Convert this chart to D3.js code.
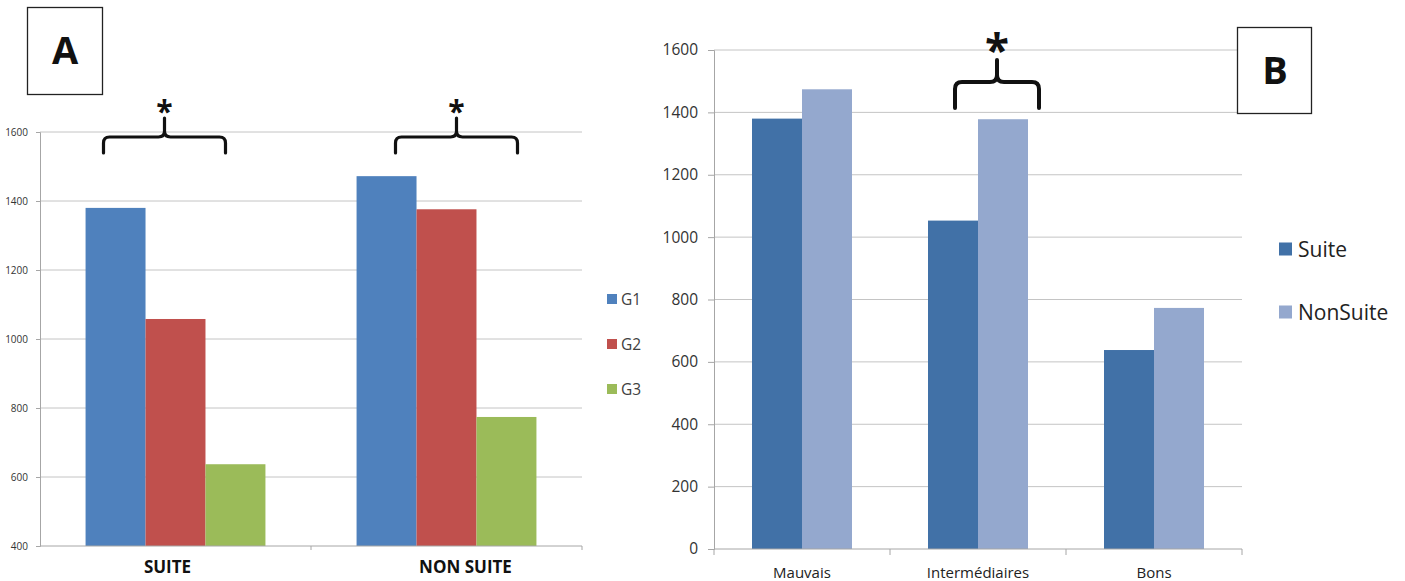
<!DOCTYPE html>
<html>
<head>
<meta charset="utf-8">
<script src="https://cdn.jsdelivr.net/npm/d3@7"></script>
<style>
  html, body { margin: 0; padding: 0; background: #fff; }
  svg { display: block; font-family: "Open Sans", sans-serif; }
</style>
</head>
<body>
<svg id="chart" width="1405" height="581"></svg>
<script>
// ---------- Data ----------
const categoriesA = ["SUITE", "NON SUITE"];
const seriesA = ["G1", "G2", "G3"];
const valuesA_G1 = [1380, 1472];
const valuesA_G2 = [1058, 1376];
const valuesA_G3 = [637, 774];
const ticksA = [400, 600, 800, 1000, 1200, 1400, 1600];

const categoriesB = ["Mauvais", "Intermédiaires", "Bons"];
const seriesB = ["Suite", "NonSuite"];
const valuesB_Suite = [1380, 1053, 638];
const valuesB_NonSuite = [1474, 1378, 773];
const ticksB = [0, 200, 400, 600, 800, 1000, 1200, 1400, 1600];

const colorsA = ["#4F81BD", "#C0504D", "#9BBB59"];
const colorsB = ["#4171A7", "#94A8CE"];

const svg = d3.select("#chart");

function bracePath(left, right, cx, yEnd, yBar, yTop, r) {
  return `M${left},${yEnd} L${left},${yBar + r} Q${left},${yBar} ${left + r},${yBar} ` +
         `L${cx - r},${yBar} Q${cx},${yBar} ${cx},${yBar - r} L${cx},${yTop} ` +
         `M${cx},${yBar - r} Q${cx},${yBar} ${cx + r},${yBar} ` +
         `L${right - r},${yBar} Q${right},${yBar} ${right},${yBar + r} L${right},${yEnd}`;
}

// ---------- Panel A ----------
(function () {
  const g = svg.append("g");
  const x0 = d3.scaleBand().domain(categoriesA).range([40, 582]).padding(0);
  const x1 = d3.scaleBand().domain(seriesA).range([0, x0.bandwidth()]).paddingInner(0).paddingOuter(0.76);
  const y = d3.scaleLinear().domain([400, 1600]).range([546, 132]);
  const color = d3.scaleOrdinal().domain(seriesA).range(colorsA);

  g.append("g").selectAll("line").data(ticksA.slice(1)).join("line")
    .attr("x1", 40).attr("x2", 582)
    .attr("y1", d => y(d)).attr("y2", d => y(d))
    .attr("stroke", "#c4c4c4").attr("stroke-width", 1);

  const ya = g.append("g").attr("transform", "translate(40,0)")
    .call(d3.axisLeft(y).tickValues(ticksA).tickSize(4).tickPadding(8).tickFormat(d3.format("d")));
  ya.select(".domain").attr("stroke", "#a6a6a6");
  ya.selectAll(".tick line").attr("stroke", "#a6a6a6");
  ya.selectAll("text").attr("font-size", 10).attr("fill", "#333").attr("font-family", "Open Sans");

  const rows = categoriesA.map((c, i) => ({ cat: c, vals: [valuesA_G1[i], valuesA_G2[i], valuesA_G3[i]] }));
  g.append("g").selectAll("g").data(rows).join("g")
    .attr("transform", d => `translate(${x0(d.cat)},0)`)
    .selectAll("rect").data(d => d.vals.map((v, j) => ({ s: seriesA[j], v })))
    .join("rect")
    .attr("x", d => x1(d.s)).attr("width", x1.bandwidth())
    .attr("y", d => y(d.v)).attr("height", d => y(400) - y(d.v))
    .attr("fill", d => color(d.s));

  const xa = g.append("g").attr("transform", "translate(0,546)");
  xa.append("line").attr("x1", 40).attr("x2", 582).attr("stroke", "#a6a6a6");
  xa.selectAll(".tk").data([x0("NON SUITE"), 582]).join("line")
    .attr("x1", d => d).attr("x2", d => d).attr("y1", 0).attr("y2", 4).attr("stroke", "#a6a6a6");
  const labelOffsets = [-8, 19];
  xa.selectAll("text").data(categoriesA).join("text")
    .attr("x", (d, i) => x0(d) + x0.bandwidth() / 2 + labelOffsets[i]).attr("y", 27)
    .attr("text-anchor", "middle").attr("font-weight", "bold").attr("font-size", 17).attr("fill", "#111")
    .text(d => d);

  const braces = [{ cat: "SUITE", dx: -11, hw: 61 }, { cat: "NON SUITE", dx: 10, hw: 61 }];
  braces.forEach(b => {
    const cx = x0(b.cat) + x0.bandwidth() / 2 + b.dx;
    g.append("path").attr("d", bracePath(cx - b.hw, cx + b.hw, cx, 153, 137, 118, 6))
      .attr("fill", "none").attr("stroke", "#111").attr("stroke-width", 3.2).attr("stroke-linecap", "round");
    g.append("text").attr("x", cx).attr("y", 122).attr("text-anchor", "middle")
      .attr("font-size", 30).attr("font-weight", "bold").attr("fill", "#111").text("*");
  });

  const lg = g.append("g");
  seriesA.forEach((s, i) => {
    const cy = 299 + i * 45;
    lg.append("rect").attr("x", 607).attr("y", cy - 5).attr("width", 10).attr("height", 10).attr("fill", colorsA[i]);
    lg.append("text").attr("x", 621).attr("y", cy + 5.5).attr("font-size", 15.5).attr("fill", "#404040").text(s);
  });

  g.append("rect").attr("x", 27.5).attr("y", 7.5).attr("width", 75).attr("height", 87)
    .attr("fill", "#fff").attr("stroke", "#222").attr("stroke-width", 1.3);
  g.append("text").attr("x", 65).attr("y", 64).attr("text-anchor", "middle")
    .attr("font-size", 38).attr("font-weight", "bold").attr("fill", "#111").text("A");
})();

// ---------- Panel B ----------
(function () {
  const g = svg.append("g");
  const x0 = d3.scaleBand().domain(categoriesB).range([714, 1242]).padding(0);
  const x1 = d3.scaleBand().domain(seriesB).range([0, x0.bandwidth()]).paddingInner(0).paddingOuter(0.76);
  const y = d3.scaleLinear().domain([0, 1600]).range([549, 50]);
  const color = d3.scaleOrdinal().domain(seriesB).range(colorsB);

  g.append("g").selectAll("line").data(ticksB.slice(1)).join("line")
    .attr("x1", 714).attr("x2", 1242)
    .attr("y1", d => y(d)).attr("y2", d => y(d))
    .attr("stroke", "#c4c4c4").attr("stroke-width", 1);

  const ya = g.append("g").attr("transform", "translate(714,0)")
    .call(d3.axisLeft(y).tickValues(ticksB).tickSize(6).tickPadding(10).tickFormat(d3.format("d")));
  ya.select(".domain").attr("stroke", "#a6a6a6");
  ya.selectAll(".tick line").attr("stroke", "#a6a6a6");
  ya.selectAll("text").attr("font-size", 15.5).attr("fill", "#333").attr("font-family", "Open Sans");

  const rows = categoriesB.map((c, i) => ({ cat: c, vals: [valuesB_Suite[i], valuesB_NonSuite[i]] }));
  g.append("g").selectAll("g").data(rows).join("g")
    .attr("transform", d => `translate(${x0(d.cat)},0)`)
    .selectAll("rect").data(d => d.vals.map((v, j) => ({ s: seriesB[j], v })))
    .join("rect")
    .attr("x", d => x1(d.s)).attr("width", x1.bandwidth())
    .attr("y", d => y(d.v)).attr("height", d => y(0) - y(d.v))
    .attr("fill", d => color(d.s));

  const xa = g.append("g").attr("transform", "translate(0,549)");
  xa.append("line").attr("x1", 714).attr("x2", 1242).attr("stroke", "#a6a6a6");
  xa.selectAll(".tk").data(categoriesB.map(c => x0(c)).concat([1242])).join("line")
    .attr("x1", d => d).attr("x2", d => d).attr("y1", 0).attr("y2", 6).attr("stroke", "#a6a6a6");
  xa.selectAll("text").data(categoriesB).join("text")
    .attr("x", d => x0(d) + x0.bandwidth() / 2).attr("y", 29)
    .attr("text-anchor", "middle").attr("font-size", 15).attr("fill", "#222").text(d => d);

  const cx = x0("Intermédiaires") + x0.bandwidth() / 2 + 19;
  g.append("path").attr("d", bracePath(cx - 42, cx + 42, cx, 108, 82, 60, 7))
    .attr("fill", "none").attr("stroke", "#111").attr("stroke-width", 4).attr("stroke-linecap", "round");
  g.append("text").attr("x", cx).attr("y", 66).attr("text-anchor", "middle")
    .attr("font-size", 44).attr("font-weight", "bold").attr("fill", "#111").text("*");

  seriesB.forEach((s, i) => {
    const cy = 249 + i * 63;
    g.append("rect").attr("x", 1279).attr("y", cy - 6.5).attr("width", 13).attr("height", 13).attr("fill", colorsB[i]);
    g.append("text").attr("x", 1298).attr("y", cy + 7.5).attr("font-size", 21).attr("fill", "#222").text(s);
  });

  g.append("rect").attr("x", 1237.5).attr("y", 27.5).attr("width", 74).attr("height", 86)
    .attr("fill", "#fff").attr("stroke", "#222").attr("stroke-width", 1.3);
  g.append("text").attr("x", 1275).attr("y", 84).attr("text-anchor", "middle")
    .attr("font-size", 38).attr("font-weight", "bold").attr("fill", "#111").text("B");
})();
</script>
</body>
</html>
